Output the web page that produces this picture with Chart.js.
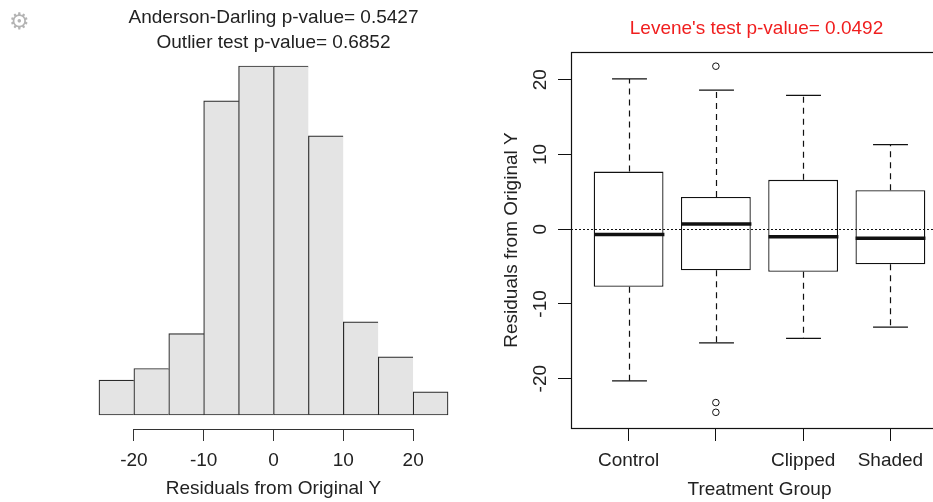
<!DOCTYPE html>
<html>
<head>
<meta charset="utf-8">
<script src="https://cdn.jsdelivr.net/npm/chart.js@4/dist/chart.umd.min.js"></script>
<style>
  html, body { margin: 0; padding: 0; background: #fff; overflow: hidden; }
  #wrap { position: relative; width: 933px; height: 502px; overflow: hidden; }
  #gear { position: absolute; left: 9px; top: 8px; font: 23px "DejaVu Sans"; color: #b4b4b4; }
  #hist { position: absolute; left: 0; top: 0; }
  #box { position: absolute; left: 470px; top: 0; }
</style>
</head>
<body>
<div id="wrap">
  <canvas id="hist" width="470" height="502"></canvas>
  <canvas id="box" width="490" height="502"></canvas>
  <div id="gear">⚙</div>
</div>
<script>
// histogram of residuals, 5-unit bins
var binStarts = [-25, -20, -15, -10, -5, 0, 5, 10, 15, 20]
var binCounts = [3, 4, 7, 27, 30, 30, 24, 8, 5, 2]
var histTicks = [-20, -10, 0, 10, 20]

// boxplot stats per treatment group
var groups = ['Control', '', 'Clipped', 'Shaded']
var whiskerHigh = [20.1, 18.6, 17.9, 11.3]
var q3 = [7.7, 4.3, 6.6, 5.2]
var medians = [-0.7, 0.7, -1.0, -1.2]
var q1 = [-7.7, -5.5, -5.7, -4.7]
var whiskerLow = [-20.3, -15.2, -14.6, -13.1]
var outlierGroup = [2, 2, 2]
var outlierValue = [21.8, -23.2, -24.5]
var boxTicks = [-20, -10, 0, 10, 20]

var INK = '#222'
Chart.defaults.font.family = '"Liberation Sans", Arial, sans-serif'
Chart.defaults.font.size = 19
Chart.defaults.color = INK

function line(ctx, x1, y1, x2, y2) {
  ctx.beginPath()
  ctx.moveTo(x1, y1)
  ctx.lineTo(x2, y2)
  ctx.stroke()
}

// title lines centred over the plot region
var panelTitle = {
  id: 'panelTitle',
  afterDraw(chart, args, opts) {
    var ctx = chart.ctx, area = chart.chartArea
    var cx = (area.left + area.right) / 2
    ctx.save()
    ctx.font = '19px "Liberation Sans", Arial, sans-serif'
    ctx.fillStyle = opts.color
    ctx.textAlign = 'center'
    ctx.textBaseline = 'middle'
    opts.lines.forEach(function (text, i) {
      ctx.fillText(text, cx + (opts.shift || 0), area.top - opts.gap - (opts.lines.length - 1 - i) * opts.lineHeight)
    })
    ctx.restore()
  }
}

// axis line only spans the first to last tick
var histAxisLine = {
  id: 'histAxisLine',
  afterDraw(chart) {
    var x = chart.scales.x, ctx = chart.ctx
    var top = Math.round(x.top) + 0.5
    ctx.save()
    ctx.strokeStyle = '#333'
    ctx.lineWidth = 1
    line(ctx, x.getPixelForValue(histTicks[0]), top, x.getPixelForValue(histTicks[histTicks.length - 1]), top)
    ctx.restore()
  }
}

// whiskers, staples, medians, zero line and frame
var boxParts = {
  id: 'boxParts',
  afterDatasetsDraw(chart) {
    var ctx = chart.ctx, y = chart.scales.y, area = chart.chartArea
    var bars = chart.getDatasetMeta(0).data
    ctx.save()
    ctx.strokeStyle = '#111'
    bars.forEach(function (bar, i) {
      var x = Math.round(bar.x) + 0.5, half = bar.width / 2
      var yHi = y.getPixelForValue(whiskerHigh[i]), yLo = y.getPixelForValue(whiskerLow[i])
      ctx.lineWidth = 1.2
      ctx.setLineDash([6, 5])
      line(ctx, x, y.getPixelForValue(q3[i]), x, yHi)
      line(ctx, x, y.getPixelForValue(q1[i]), x, yLo)
      ctx.setLineDash([])
      line(ctx, x - half / 2, yHi, x + half / 2, yHi)
      line(ctx, x - half / 2, yLo, x + half / 2, yLo)
      ctx.lineWidth = 3.5
      var ym = y.getPixelForValue(medians[i])
      line(ctx, x - half, ym, x + half, ym)
    })
    ctx.lineWidth = 1
    ctx.setLineDash([2, 2])
    var y0 = Math.round(y.getPixelForValue(0)) + 0.5
    line(ctx, area.left, y0, area.right, y0)
    ctx.setLineDash([])
    ctx.lineWidth = 1.2
    ctx.strokeRect(Math.round(area.left) + 0.5, Math.round(area.top) + 0.5, area.right - area.left, Math.round(area.bottom - area.top))
    ctx.restore()
  }
}

new Chart(document.getElementById('hist'), {
  type: 'bar',
  data: {
    datasets: [{
      data: binStarts.map(function (s, i) { return {x: s + 2.5, y: binCounts[i]} }),
      backgroundColor: '#e4e4e4',
      borderColor: '#2a2a2a',
      borderWidth: function (c) {
        return {top: 1.2, left: 1.2, bottom: 1.2, right: c.dataIndex === binCounts.length - 1 ? 1.2 : 0}
      },
      borderSkipped: false,
      barPercentage: 1,
      categoryPercentage: 1
    }]
  },
  options: {
    responsive: false,
    animation: false,
    layout: {padding: {top: 52, left: 85, right: 8, bottom: 0}},
    plugins: {
      legend: {display: false},
      tooltip: {enabled: false},
      panelTitle: {lines: ['Anderson-Darling p-value= 0.5427', 'Outlier test p-value= 0.6852'], color: INK, gap: 9, lineHeight: 25}
    },
    scales: {
      x: {
        type: 'linear', min: -27, max: 27, offset: false,
        afterBuildTicks: function (s) { s.ticks = histTicks.map(function (v) { return {value: v} }) },
        afterFit: function (s) { s.height = 73 },
        border: {display: false},
        grid: {offset: false, drawOnChartArea: false, tickLength: 12, color: '#333'},
        ticks: {padding: 8},
        title: {display: true, text: 'Residuals from Original Y', padding: {top: 0, bottom: 2}}
      },
      y: {display: false, min: -1.2, max: 31.2}
    }
  },
  plugins: [panelTitle, histAxisLine]
})

new Chart(document.getElementById('box'), {
  type: 'bar',
  data: {
    datasets: [{
      data: groups.map(function (g, i) { return {x: i + 1, y: [q1[i], q3[i]]} }),
      backgroundColor: '#fff',
      borderColor: '#111',
      borderWidth: 1.3,
      borderSkipped: false,
      barPercentage: 0.8,
      categoryPercentage: 1
    }, {
      type: 'scatter',
      data: outlierGroup.map(function (g, i) { return {x: g, y: outlierValue[i]} }),
      pointStyle: 'circle',
      pointRadius: 3.3,
      borderColor: '#111',
      borderWidth: 1,
      backgroundColor: 'rgba(0,0,0,0)'
    }]
  },
  options: {
    responsive: false,
    animation: false,
    layout: {padding: {top: 52, left: 0, right: 12, bottom: 0}},
    plugins: {
      legend: {display: false},
      tooltip: {enabled: false},
      panelTitle: {lines: ["Levene's test p-value= 0.0492"], color: '#f01e1e', gap: 23, lineHeight: 25, shift: -3}
    },
    scales: {
      x: {
        type: 'linear', min: 0.34, max: 4.66, offset: false,
        afterBuildTicks: function (s) { s.ticks = groups.map(function (g, i) { return {value: i + 1} }) },
        afterFit: function (s) { s.height = 74 },
        border: {display: false},
        grid: {offset: false, drawOnChartArea: false, tickLength: 13, color: '#111'},
        ticks: {padding: 8, autoSkip: false, maxRotation: 0, callback: function (v) { return groups[Math.round(v) - 1] }},
        title: {display: true, text: 'Treatment Group', padding: {top: 0, bottom: 1}}
      },
      y: {
        min: -26.6, max: 23.7,
        afterBuildTicks: function (s) { s.ticks = boxTicks.map(function (v) { return {value: v} }) },
        afterFit: function (s) { s.width = 101 },
        border: {display: false},
        grid: {drawOnChartArea: false, tickLength: 13, color: '#111'},
        ticks: {minRotation: 90, maxRotation: 90, crossAlign: 'center', padding: 4},
        title: {display: true, text: 'Residuals from Original Y', padding: {top: 30, bottom: 0}}
      }
    }
  },
  plugins: [panelTitle, boxParts]
})
</script>
</body>
</html>
